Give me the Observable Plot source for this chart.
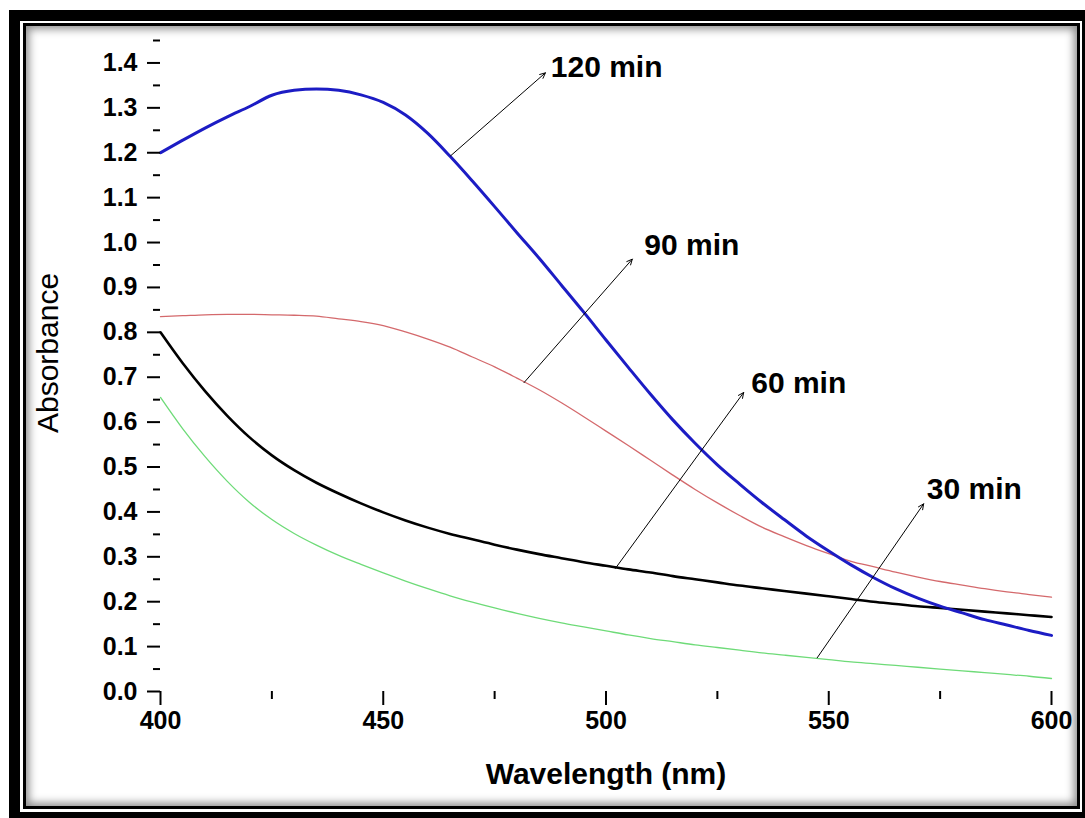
<!DOCTYPE html>
<html>
<head>
<meta charset="utf-8">
<script src="https://cdn.jsdelivr.net/npm/d3@7"></script>
<script src="https://cdn.jsdelivr.net/npm/@observablehq/plot@0.6"></script>
<style>
  html, body { margin: 0; padding: 0; background: #fff; width: 1085px; height: 818px; overflow: hidden; }
  #outer { position: absolute; left: 9px; top: 10px; width: 1080px; height: 812px; background: #000; }
  #gap { position: absolute; left: 20px; top: 21px; width: 1062px; height: 791px; background: #fff; }
  #line { position: absolute; left: 23px; top: 23px; width: 1057px; height: 786px; box-sizing: border-box;
          border: 3px solid #000; background: #fff; box-shadow: inset 0 0 9px 3px rgba(0,0,0,0.45); }
  #chart { position: absolute; left: 0; top: 0; }
</style>
</head>
<body>
<div id="outer"></div>
<div id="gap"></div>
<div id="line"></div>
<div id="chart"></div>
<script>
// Wavelength grid (nm)
const wavelength = [400,405,410,415,420,425,430,435,440,445,450,455,460,465,470,475,480,485,490,495,500,505,510,515,520,525,530,535,540,545,550,555,560,565,570,575,580,585,590,595,600];

// Absorbance series
const abs120 = [1.200,1.228,1.255,1.280,1.303,1.328,1.339,1.342,1.339,1.329,1.312,1.284,1.243,1.192,1.137,1.080,1.022,0.965,0.905,0.845,0.783,0.722,0.662,0.605,0.553,0.505,0.462,0.421,0.383,0.346,0.313,0.282,0.254,0.229,0.208,0.190,0.175,0.160,0.148,0.136,0.125];
const abs90  = [0.835,0.837,0.839,0.840,0.840,0.839,0.838,0.836,0.830,0.824,0.815,0.801,0.785,0.767,0.745,0.723,0.698,0.672,0.643,0.612,0.580,0.548,0.515,0.482,0.450,0.420,0.392,0.366,0.345,0.325,0.307,0.290,0.278,0.266,0.255,0.245,0.237,0.229,0.222,0.216,0.210];
const abs60  = [0.800,0.731,0.669,0.614,0.566,0.526,0.493,0.465,0.441,0.419,0.399,0.381,0.365,0.351,0.339,0.327,0.316,0.306,0.297,0.288,0.280,0.272,0.265,0.257,0.250,0.243,0.236,0.230,0.224,0.218,0.212,0.206,0.200,0.195,0.190,0.186,0.182,0.178,0.174,0.170,0.166];
const abs30  = [0.655,0.585,0.523,0.468,0.421,0.383,0.352,0.326,0.303,0.283,0.264,0.246,0.229,0.213,0.199,0.186,0.174,0.163,0.153,0.144,0.135,0.126,0.118,0.111,0.104,0.098,0.092,0.086,0.081,0.076,0.071,0.066,0.062,0.058,0.054,0.050,0.046,0.042,0.038,0.034,0.029];

const seriesNames  = ["30 min", "60 min", "90 min", "120 min"];
const seriesValues = [abs30, abs60, abs90, abs120];
const seriesColors = ["#6edb78", "#000000", "#d4696c", "#1c1cc4"];
const seriesWidths = [1.3, 2.6, 1.3, 3];

// Ticks
const xTicks = [400, 450, 500, 550, 600];
const xMinor = [425, 475, 525, 575];
const yTicks = [0,0.1,0.2,0.3,0.4,0.5,0.6,0.7,0.8,0.9,1.0,1.1,1.2,1.3,1.4];
const yMinor = [0.05,0.15,0.25,0.35,0.45,0.55,0.65,0.75,0.85,0.95,1.05,1.15,1.25,1.35,1.45];

// Annotation arrows (data units) and labels
const annLabel = ["120 min", "90 min", "60 min", "30 min"];
const annFromX = [465.1, 481.6, 502.1, 547.4];
const annFromY = [1.193, 0.688, 0.274, 0.075];
const annToX   = [486.4, 505.9, 530.9, 571.3];
const annToY   = [1.378, 0.963, 0.666, 0.418];
const annTextX = [487.6, 508.6, 532.6, 572.0];
const annTextY = [1.391, 0.993, 0.686, 0.451];

const rows = [];
seriesNames.forEach((name, i) => {
  wavelength.forEach((w, j) => rows.push({series: name, w, a: seriesValues[i][j]}));
});
const ann = annLabel.map((t, i) => ({t, x1: annFromX[i], y1: annFromY[i], x2: annToX[i], y2: annToY[i], tx: annTextX[i], ty: annTextY[i]}));

const font = "'Liberation Sans', Arial, sans-serif";

const marks = [];
seriesNames.forEach((name, i) => {
  marks.push(Plot.line(rows.filter(d => d.series === name), {
    x: "w", y: "a", stroke: seriesColors[i], strokeWidth: seriesWidths[i], curve: "monotone-x"
  }));
});
marks.push(
  Plot.arrow(ann, {x1: "x1", y1: "y1", x2: "x2", y2: "y2", stroke: "#000", strokeWidth: 1, headLength: 9, headAngle: 50}),
  Plot.text(ann, {x: "tx", y: "ty", text: "t", textAnchor: "start", fontSize: 30, fontWeight: "bold", fill: "#000", lineAnchor: "middle"}),
  Plot.axisY({ticks: yMinor, tickSize: 7, tickFormat: () => "", strokeWidth: 2, label: null}),
  Plot.axisY({ticks: yTicks, tickSize: 13, tickPadding: 10, tickFormat: d3.format(".1f"), strokeWidth: 2,
              fontSize: 25, fontWeight: "bold", line: true, label: null}),
  Plot.axisX({ticks: xMinor, tickSize: 8, tickFormat: () => "", strokeWidth: 2, label: null}),
  Plot.axisX({ticks: xTicks, tickSize: 14, tickPadding: 6, tickFormat: d3.format("d"), strokeWidth: 2,
              fontSize: 25, fontWeight: "bold", line: true, label: null}),
  Plot.text(["Wavelength (nm)"], {frameAnchor: "bottom", dy: 83, fontSize: 30, fontWeight: "bold", textAnchor: "middle", lineAnchor: "middle"}),
  Plot.text(["Absorbance"], {frameAnchor: "left", dx: -112, dy: -13, rotate: -90, fontSize: 30, textAnchor: "middle", lineAnchor: "middle"})
);

const chart = Plot.plot({
  width: 1085,
  height: 818,
  marginLeft: 160,
  marginRight: 34,
  marginTop: 40,
  marginBottom: 127,
  style: {background: "transparent", fontFamily: font, color: "#000", overflow: "visible"},
  x: {domain: [400, 600]},
  y: {domain: [0, 1.45]},
  marks
});
document.getElementById("chart").appendChild(chart);
</script>
</body>
</html>
